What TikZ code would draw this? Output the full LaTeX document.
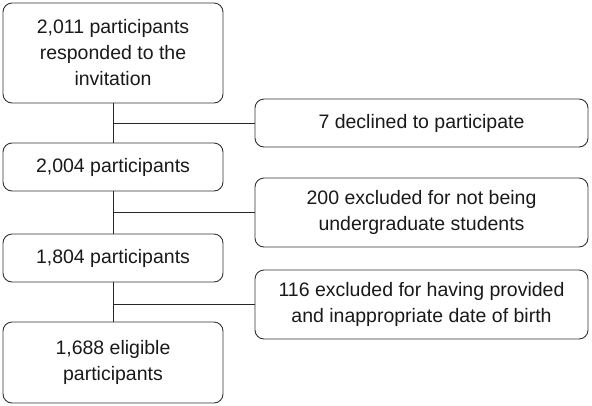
\documentclass[tikz,border=0pt]{standalone}
\usepackage{fontspec}
\setmainfont{Liberation Sans}
\begin{document}
\begin{tikzpicture}[x=1pt,y=-1pt,
  box/.style={draw=black!80, line width=0.9pt, rounded corners=9pt, align=center, inner sep=0pt,
    font=\fontsize{19.5}{26}\selectfont, text=black!90},
  conn/.style={draw=black!85, line width=1pt}]
\useasboundingbox (0,0) rectangle (592,405);
\node[box, minimum width=220pt, minimum height=100pt] (b1) at (113,53) {2,011 participants\\responded to the\\invitation};
\node[box, minimum width=220pt, minimum height=48pt] (b2) at (113,167) {2,004 participants};
\node[box, minimum width=220pt, minimum height=48pt] (b3) at (113,258) {1,804 participants};
\node[box, minimum width=220pt, minimum height=81pt] (b4) at (113,362.5) {1,688 eligible\\participants};
\node[box, minimum width=333pt, minimum height=48pt] (s1) at (421.5,123) {7 declined to participate};
\node[box, minimum width=333pt, minimum height=69pt] (s2) at (421.5,212.5) {200 excluded for not being\\undergraduate students};
\node[box, minimum width=333pt, minimum height=69pt] (s3) at (421.5,304.5) {116 excluded for having provided\\and inappropriate date of birth};
\draw[conn] (b1.south) -- (b2.north);
\draw[conn] (b2.south) -- (b3.north);
\draw[conn] (b3.south) -- (b4.north);
\draw[conn] (s1.west) -- (s1.west -| b1.south);
\draw[conn] (s2.west) -- (s2.west -| b2.south);
\draw[conn] (s3.west) -- (s3.west -| b3.south);
\end{tikzpicture}
\end{document}
